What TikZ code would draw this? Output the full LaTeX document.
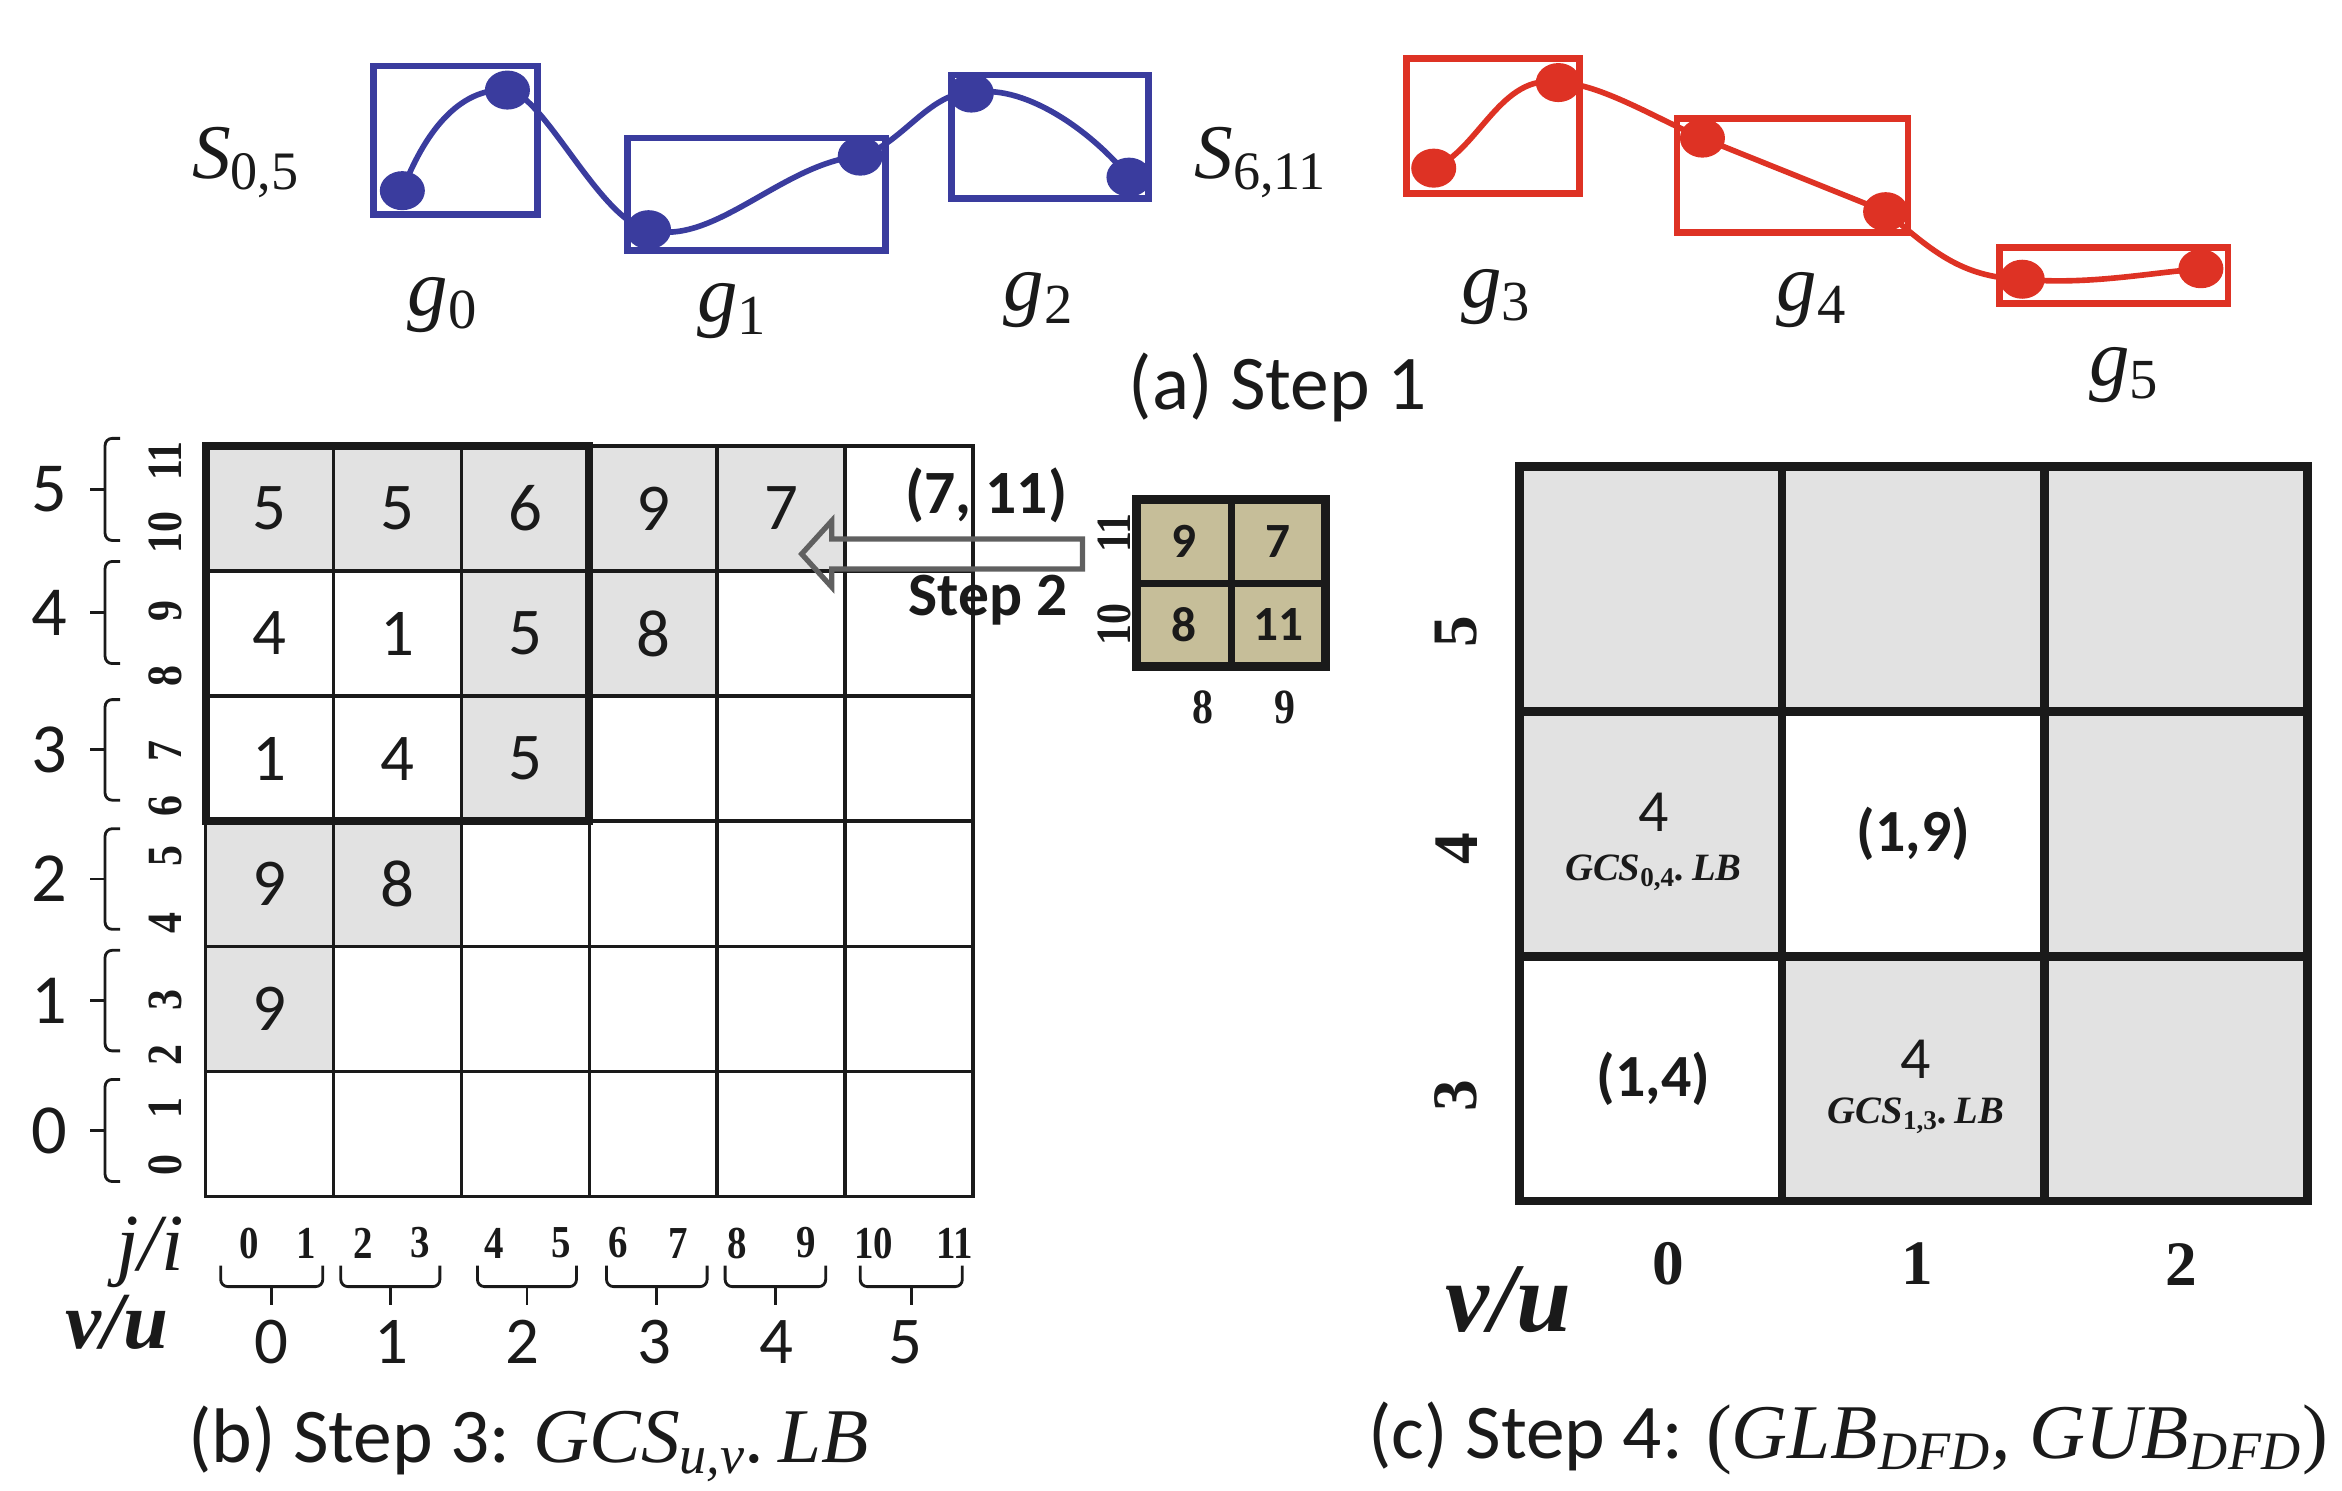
\documentclass[tikz,border=0pt]{standalone}
\usepackage{fontspec}
\setmainfont{Carlito}
\newfontfamily\tnr{Liberation Serif}
\newfontfamily\tnrc[FakeStretch=0.85]{Liberation Serif}
\newfontfamily\mfont{Liberation Serif}
\definecolor{cblue}{RGB}{58,60,158}
\definecolor{cred}{RGB}{222,50,36}
\definecolor{cellgray}{RGB}{226,226,226}
\definecolor{khaki}{RGB}{198,190,153}
\definecolor{arrgray}{RGB}{96,96,96}
\definecolor{ink}{RGB}{26,26,26}
\newcommand\fs[1]{\fontsize{#1}{#1}\selectfont}
\newcommand\mi[1]{{\mfont\itshape #1}}
\newcommand\sbs[1]{\textsubscript{#1}}
\newcommand\bformula[1]{{\tnr\bfseries\itshape GCS\textsubscript{\upshape #1}.\,LB}}
\begin{document}
\begin{tikzpicture}[x=0.15mm,y=-0.15mm,
  every node/.style={text=ink,inner sep=0pt,outer sep=0pt},
  bluebox/.style={draw=cblue,line width=1.9pt},
  redbox/.style={draw=cred,line width=1.9pt},
  bluecurve/.style={draw=cblue,line width=1.6pt},
  redcurve/.style={draw=cred,line width=1.6pt},
  mathlbl/.style={font=\fs{23}},
  slbl/.style={font=\fs{22}},
  capfont/.style={font=\fs{22}},
  cellnum/.style={font=\fs{19}},
  boldnum/.style={font=\bfseries\fs{17.5}},
  rotnum/.style={font=\tnrc\bfseries\fs{14},rotate=90},
  jinum/.style={font=\tnrc\bfseries\fs{13}},
  thinline/.style={draw=ink,line width=1pt,line cap=rect},
  thickline/.style={draw=ink,line width=2.3pt,line cap=rect},
  cline/.style={draw=ink,line width=2.5pt,line cap=rect},
  brline/.style={draw=ink,line width=0.8pt},
  khakinum/.style={font=\bfseries\fs{14}},
  clabel/.style={font=\tnr\bfseries\fs{18}},
  formula/.style={font=\fs{11}}
]
\useasboundingbox (0,0) rectangle (1560,993);

% ---------------- (a) ----------------
\draw[bluebox] (249,44) rectangle (358,143);
\draw[bluebox] (418,92) rectangle (590,167);
\draw[bluebox] (634,50) rectangle (765,132);
\coordinate (d0) at (268,127);
\coordinate (d1) at (338,60);
\coordinate (d2) at (432,153);
\coordinate (d3) at (573,104);
\coordinate (d4) at (647,62);
\coordinate (d5) at (752,118);
\draw[bluecurve] (d0) .. controls (282,90) and (305,58) .. (d1)
  .. controls (362,62) and (400,148) .. (d2)
  .. controls (475,165) and (522,108) .. (d3)
  .. controls (600,97) and (620,60) .. (d4)
  .. controls (680,55) and (725,85) .. (d5);
\foreach \i in {0,...,5} \fill[cblue] (d\i) ellipse [x radius=15,y radius=13];

\draw[redbox] (937,39) rectangle (1052,129);
\draw[redbox] (1117,79) rectangle (1271,155);
\draw[redbox] (1332,165) rectangle (1484,202);
\coordinate (e0) at (955,112);
\coordinate (e1) at (1038,55);
\coordinate (e2) at (1134,92);
\coordinate (e3) at (1256,141);
\coordinate (e4) at (1347,186);
\coordinate (e5) at (1466,179);
\draw[redcurve] (e0) .. controls (985,100) and (1000,48) .. (e1)
  .. controls (1065,55) and (1105,80) .. (e2) -- (e3)
  .. controls (1285,165) and (1305,185) .. (e4)
  .. controls (1390,190) and (1430,182) .. (e5);
\foreach \i in {0,...,5} \fill[cred] (e\i) ellipse [x radius=15,y radius=13];

\node[slbl] (S05) at (164,108) {\mi{S}\sbs{\mfont 0,5}};
\node[slbl] (S611) at (840,108) {\mi{S}\sbs{\mfont 6,11}};
\node[mathlbl] (g0) at (295,203) {\mi{g}\sbs{\mfont 0}};
\node[mathlbl] (g1) at (488,207) {\mi{g}\sbs{\mfont 1}};
\node[mathlbl] (g2) at (692,200) {\mi{g}\sbs{\mfont 2}};
\node[mathlbl] (g3) at (997,198) {\mi{g}\sbs{\mfont 3}};
\node[mathlbl] (g4) at (1207,200) {\mi{g}\sbs{\mfont 4}};
\node[mathlbl] (g5) at (1415,250) {\mi{g}\sbs{\mfont 5}};
\node[capfont] (capa) at (851,258) {(a) Step 1};

% ---------------- (b) ----------------
\begin{scope}[shift={(137,297)},x=12.7755mm,y=-12.4995mm]
  \foreach \c/\r in {0/0,1/0,2/0,3/0,4/0,2/1,3/1,2/2,0/3,1/3,0/4}
    \fill[cellgray] (\c,\r) rectangle ++(1,1);
  \foreach \i in {0,...,6} {
    \draw[thinline] (\i,0) -- (\i,6);
    \draw[thinline] (0,\i) -- (6,\i);
  }
  \draw[thickline] (0,0) rectangle (3,3);
  \foreach \c/\r/\v in {0/0/5,1/0/5,2/0/6,3/0/9,4/0/7,0/1/4,1/1/1,2/1/5,3/1/8,0/2/1,1/2/4,2/2/5,0/3/9,1/3/8,0/4/9}
    \node[cellnum] (b\r\c) at (\c+0.5,\r+0.5) {\v};
\end{scope}

% left row labels with braces
\foreach \v/\ya/\yb in {5/292/360,4/374/442,3/466/533,2/552/619,1/633/700,0/719/787} {
  \pgfmathsetmacro\ym{(\ya+\yb)/2}
  \draw[brline,rounded corners=2pt] (80,\ya) -- (70,\ya) -- (70,\yb) -- (80,\yb);
  \draw[brline] (70,\ym) -- (60,\ym);
  \node[font=\fs{20}] (rl\v) at (33,\ym) {\v};
}
\foreach \v/\y in {11/307,10/355,9/407,8/450,7/500,6/537,5/570,4/615,3/666,2/703,1/738,0/776}
  \node[rotnum] (ri\v) at (110,\y) {\v};

% bottom labels
\foreach \v/\x in {0/166,1/204,2/242,3/280,4/329,5/374,6/412,7/452,8/491,9/537,10/582,11/636}
  \node[jinum] (bj\v) at (\x,828) {\v};
\foreach \v/\xa/\xb in {0/147/215,1/227/293,2/318/384,3/404/471,4/483/550,5/573/641} {
  \pgfmathsetmacro\xm{(\xa+\xb)/2}
  \draw[brline,rounded corners=2pt] (\xa,843) -- (\xa,857) -- (\xb,857) -- (\xb,843);
  \draw[brline] (\xm,857) -- (\xm,869);
}
\foreach \v/\x in {0/181,1/261,2/348,3/436,4/517,5/603}
  \node[font=\fs{19}] (bu\v) at (\x,894) {\v};
\node[font=\tnr\itshape\fs{23}] (ji) at (100,834) {j/i};
\node[font=\tnr\bfseries\itshape\fs{23}] (vub) at (78,881) {v/u};
\node[capfont] (capb) at (352,962) {(b) Step 3: \mi{GCS\sbs{u,v}.\,LB}};

% step 2 arrow and labels
\node[boldnum] (p711) at (657,330) {(7, 11)};
\node[boldnum] (step2) at (658,400) {Step 2};
\coordinate (arrtip) at (534,369);
\draw[arrgray,line width=1.5pt,line join=miter] (721,359) -- (554,359) -- (554,347) -- (arrtip) -- (554,391) -- (554,379) -- (721,379) -- cycle;

% small matrix
\begin{scope}[shift={(757,333)},x=9.45mm,y=-8.325mm]
  \fill[khaki] (0,0) rectangle (2,2);
  \draw[draw=ink,line width=2pt] (1,0) -- (1,2) (0,1) -- (2,1);
  \draw[draw=ink,line width=2.6pt] (0,0) rectangle (2,2);
  \node[khakinum] (k9) at (0.5,0.5) {9};
  \node[khakinum] (k7) at (1.5,0.5) {7};
  \node[khakinum] (k8) at (0.5,1.5) {8};
  \node[khakinum] (k11) at (1.5,1.5) {11};
\end{scope}
\node[rotnum] (sm11) at (742,355) {11};
\node[rotnum] (sm10) at (742,416) {10};
\node[font=\tnrc\bfseries\fs{14}] (sm8) at (801,471) {8};
\node[font=\tnrc\bfseries\fs{14}] (sm9) at (856,471) {9};

% ---------------- (c) ----------------
\begin{scope}[shift={(1012,311)},x=26.25mm,y=-24.45mm]
  \foreach \c/\r in {0/0,1/0,2/0,0/1,2/1,1/2,2/2}
    \fill[cellgray] (\c,\r) rectangle ++(1,1);
  \foreach \i in {0,...,3} {
    \draw[cline] (\i,0) -- (\i,3);
    \draw[cline] (0,\i) -- (3,\i);
  }
  \node[font=\fs{17}] (cfoura) at (0.51,1.41) {4};
  \node[formula] (cforma) at (0.51,1.66) {\bformula{0,4}};
  \node[font=\bfseries\fs{17}] (cpairb) at (1.5,1.5) {(1,9)};
  \node[font=\bfseries\fs{17}] (cpaira) at (0.51,2.5) {(1,4)};
  \node[font=\fs{17}] (cfourb) at (1.51,2.42) {4};
  \node[formula] (cformb) at (1.51,2.65) {\bformula{1,3}};
\end{scope}
\node[clabel,rotate=90] (cr5) at (970,421) {5};
\node[clabel,rotate=90] (cr4) at (970,565) {4};
\node[clabel,rotate=90] (cr3) at (970,730) {3};
\node[clabel] (cc0) at (1111,842) {0};
\node[clabel] (cc1) at (1277,842) {1};
\node[clabel] (cc2) at (1453,842) {2};
\node[font=\tnr\bfseries\itshape\fs{28}] (vuc) at (1005,866) {v/u};
\node[capfont] (capc) at (1231,958) {(c) Step 4: {\mfont(}\mi{GLB\sbs{DFD}, GUB\sbs{DFD}}{\mfont)}};
\end{tikzpicture}
\end{document}
